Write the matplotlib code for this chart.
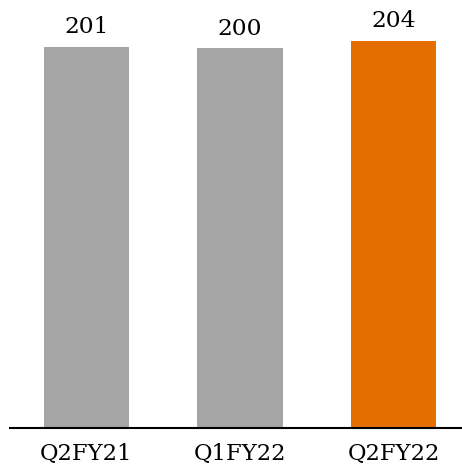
import matplotlib.pyplot as plt

quarters = ["Q2FY21", "Q1FY22", "Q2FY22"]
values = [201, 200, 204]
colors = ["#A5A5A5", "#A5A5A5", "#E46F00"]

fig = plt.figure(figsize=(4.62, 4.68), dpi=100)
ax = fig.add_axes([10 / 462, 40 / 468, 452 / 462, 428 / 468])

x = range(len(quarters))
bars = ax.bar(x, values, width=0.557, color=colors)

for b, v in zip(bars, values):
    ax.annotate(f"{v}", (b.get_x() + b.get_width() / 2, v),
                xytext=(0, 6), textcoords="offset points",
                ha="center", va="bottom", fontsize=16.8,
                family="DejaVu Serif", color="black")

ax.set_xlim(-0.498, 2.446)
ax.set_ylim(0, 225.5)
ax.set_xticks(list(x))
ax.set_xticklabels(quarters, fontsize=16.3, family="DejaVu Serif", color="black")
ax.tick_params(axis="x", length=0, pad=11)
ax.set_yticks([])
for s in ["top", "right", "left"]:
    ax.spines[s].set_visible(False)
ax.spines["bottom"].set_linewidth(1.5)
ax.spines["bottom"].set_color("black")

fig.savefig("out.png", dpi=100)
